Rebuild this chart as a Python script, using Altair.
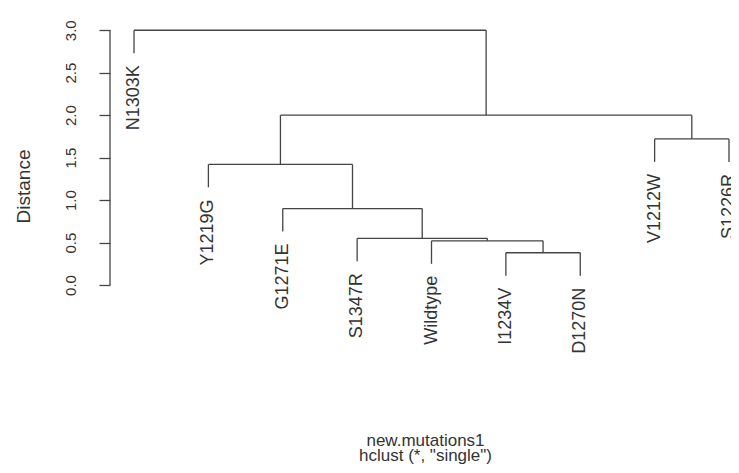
import altair as alt
import pandas as pd

# ---- data ----
leaf_labels = ["N1303K", "Y1219G", "G1271E", "S1347R", "Wildtype",
               "I1234V", "D1270N", "V1212W", "S1226R"]
# hclust-style merges: a string is a leaf, an int refers to an earlier merge (1-based)
merge_left = ["I1234V", "Wildtype", "S1347R", "G1271E", "Y1219G", "V1212W", 5, "N1303K"]
merge_right = ["D1270N", 1, 2, 3, 4, "S1226R", 6, 7]
merge_height = [0.38, 0.52, 0.55, 0.90, 1.42, 1.72, 2.00, 3.00]
y_ticks = [0.0, 0.5, 1.0, 1.5, 2.0, 2.5, 3.0]
y_title = "Distance"
x_title = ["new.mutations1", 'hclust (*, "single")']

HANG = 0.27
FONT = "Liberation Sans"
LINE = "#444444"
TEXT = "#333333"

# ---- build segments from the tree ----
leaf_pos = {name: i + 1 for i, name in enumerate(leaf_labels)}
node_x, node_h = {}, {}
segs, leaf_rows = [], []


def child_info(c, parent_h):
    if isinstance(c, str):
        x = leaf_pos[c]
        bottom = parent_h - HANG
        leaf_rows.append({"label": c, "x": x, "y": bottom})
        return x, bottom
    return node_x[c], node_h[c]


for k, (l, r, h) in enumerate(zip(merge_left, merge_right, merge_height), start=1):
    xl, yl = child_info(l, h)
    xr, yr = child_info(r, h)
    segs.append(dict(x=xl, x2=xr, y=h, y2=h))
    segs.append(dict(x=xl, x2=xl, y=yl, y2=h))
    segs.append(dict(x=xr, x2=xr, y=yr, y2=h))
    node_x[k] = (xl + xr) / 2
    node_h[k] = h

seg_df = pd.DataFrame(segs)
leaf_df = pd.DataFrame(leaf_rows)
axis_df = pd.DataFrame({"lo": [min(y_ticks)], "hi": [max(y_ticks)]})

xs = alt.Scale(domain=[0.677, 9.027], nice=False, zero=False)
ys = alt.Scale(domain=[-0.6, 3.25], nice=False, zero=False)

x_axis = alt.Axis(
    title=x_title, labels=False, ticks=False, domain=False, grid=False,
    titleX=315, titleY=109, titleBaseline="alphabetic", titleAlign="center",
    titleFont=FONT, titleFontSize=17, titleFontWeight="normal",
    titleColor=TEXT, titleLineHeight=15)

y_axis = alt.Axis(
    values=y_ticks, format=".1f", title=y_title, grid=False, domain=False,
    tickSize=11, tickColor=LINE, tickWidth=1.3,
    labelAngle=270, labelAlign="center", labelBaseline="middle",
    labelPadding=29, labelFont=FONT, labelFontSize=15, labelColor=TEXT,
    titleX=-87, titleY=177, titleAngle=270, titleAlign="center",
    titleBaseline="middle", titleFont=FONT, titleFontSize=19,
    titleFontWeight="normal", titleColor=TEXT)

segments = alt.Chart(seg_df).mark_rule(color=LINE, strokeWidth=1.3).encode(
    x=alt.X("x:Q", scale=xs, axis=x_axis),
    x2="x2:Q",
    y=alt.Y("y:Q", scale=ys, axis=y_axis),
    y2="y2:Q",
)

axis_line = alt.Chart(axis_df).mark_rule(color=LINE, strokeWidth=1.3).encode(
    x=alt.value(0),
    y=alt.Y("lo:Q", scale=ys, axis=y_axis),
    y2="hi:Q",
)

labels = alt.Chart(leaf_df).mark_text(
    angle=270, align="right", baseline="middle", dx=-12,
    font=FONT, fontSize=18, color=TEXT,
).encode(
    x=alt.X("x:Q", scale=xs, axis=x_axis),
    y=alt.Y("y:Q", scale=ys, axis=y_axis),
    text="label:N",
)

chart = alt.layer(segments, axis_line, labels).properties(
    width=621,
    height=327,
    autosize=alt.AutoSizeParams(type="none"),
    padding={"left": 102, "top": 1, "right": 0, "bottom": 129},
    background="white",
).configure_view(stroke=None)

chart.save("out.html", embed_options={"renderer": "svg", "actions": False})
